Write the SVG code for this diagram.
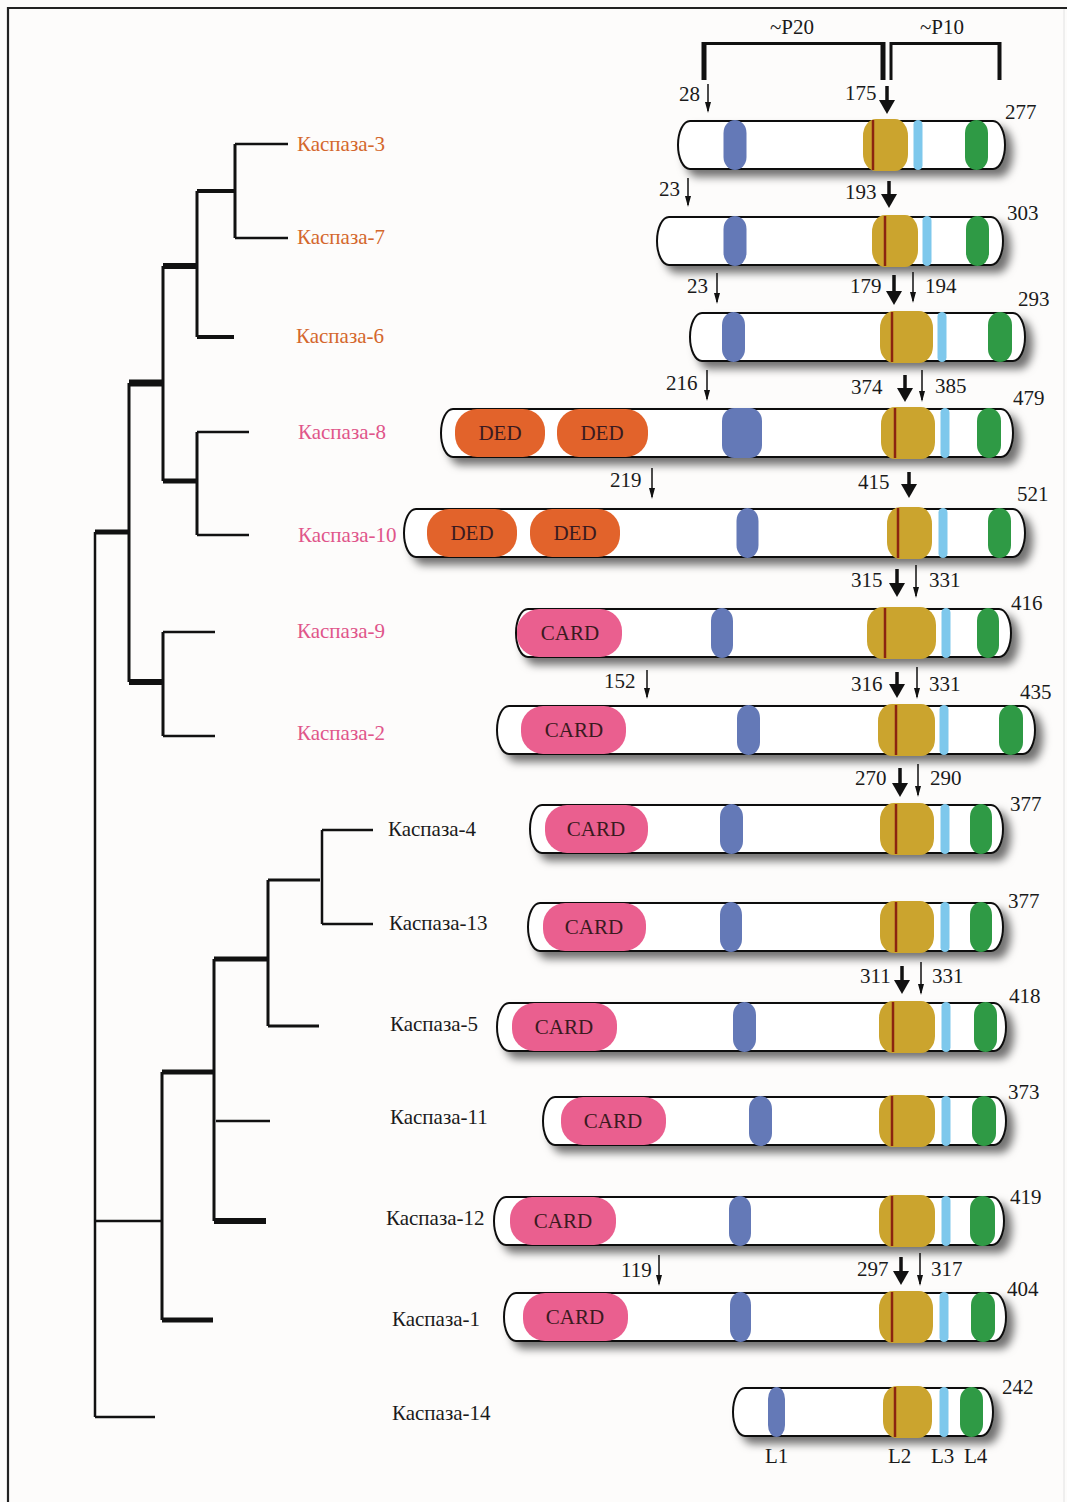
<svg xmlns="http://www.w3.org/2000/svg" width="1067" height="1502" viewBox="0 0 1067 1502">
<style>
text{font-family:"Liberation Serif","Times New Roman",serif;font-size:21px;fill:#1a1a1a}
.lo{fill:#d4672c}.lp{fill:#e0558a}
.dom{text-anchor:middle;fill:#3a1a20}
.bar{fill:#fff;stroke:#111;stroke-width:2}
.bl{fill:#6479b7}.go{fill:#cba42e}.lb{fill:#7ec8ec}.gr{fill:#2f9a45}
.rd{stroke:#8b2410;stroke-width:2.5}
.ded{fill:#e2632b}.card{fill:#ea5f8f}
.br{stroke:#111;fill:none;stroke-linecap:butt}
.t{stroke:#111;stroke-width:1.5;marker-end:url(#at)}
.k{stroke:#111;stroke-width:3.5;marker-end:url(#ak)}
</style>
<defs>
<filter id="sh" x="-5%" y="-30%" width="115%" height="190%">
<feDropShadow dx="7" dy="7" stdDeviation="4.5" flood-color="#000" flood-opacity="0.55"/>
</filter>
<marker id="at" markerUnits="userSpaceOnUse" markerWidth="20" markerHeight="20" viewBox="-10 -10 20 20" refX="0" refY="0" orient="auto"><path d="M-9,-3 L2,0 L-9,3 z" fill="#111"/></marker>
<marker id="ak" markerUnits="userSpaceOnUse" markerWidth="24" markerHeight="24" viewBox="-12 -12 24 24" refX="0" refY="0" orient="auto"><path d="M-8,-8 L6,0 L-8,8 z" fill="#111"/></marker>
</defs>
<rect x="0" y="0" width="1067" height="1502" fill="#fdfcfb"/>
<g id="frame" fill="none">
<path d="M8,1502 V8 H1067" stroke="#222" stroke-width="2.2"/>
<line x1="1064" y1="9" x2="1064" y2="1502" stroke="#e2e2e2" stroke-width="1"/>
</g>

<g id="connectors" class="br" stroke-linecap="square">
<line x1="235" y1="144" x2="288" y2="144" stroke-width="2.5"/>
<line x1="235" y1="238" x2="288" y2="238" stroke-width="2.5"/>
<line x1="235" y1="144" x2="235" y2="238" stroke-width="3"/>
<line x1="197" y1="191" x2="235" y2="191" stroke-width="4"/>
<line x1="197" y1="337" x2="234" y2="337" stroke-width="4"/>
<line x1="197" y1="191" x2="197" y2="337" stroke-width="3"/>
<line x1="163" y1="266" x2="197" y2="266" stroke-width="6"/>
<line x1="197" y1="432" x2="249" y2="432" stroke-width="2.5"/>
<line x1="197" y1="535" x2="249" y2="535" stroke-width="2.5"/>
<line x1="197" y1="432" x2="197" y2="535" stroke-width="3"/>
<line x1="163" y1="481" x2="197" y2="481" stroke-width="5"/>
<line x1="163" y1="266" x2="163" y2="481" stroke-width="3"/>
<line x1="129" y1="383" x2="163" y2="383" stroke-width="7"/>
<line x1="163" y1="632" x2="215" y2="632" stroke-width="2.5"/>
<line x1="163" y1="736" x2="215" y2="736" stroke-width="2.5"/>
<line x1="163" y1="632" x2="163" y2="736" stroke-width="3"/>
<line x1="129" y1="682" x2="163" y2="682" stroke-width="6"/>
<line x1="129" y1="383" x2="129" y2="682" stroke-width="3"/>
<line x1="95" y1="532" x2="129" y2="532" stroke-width="5"/>
<line x1="95" y1="532" x2="95" y2="1417" stroke-width="2.5"/>
<line x1="95" y1="1417" x2="155" y2="1417" stroke-width="2.5"/>
<line x1="95" y1="1221" x2="162" y2="1221" stroke-width="2.5"/>
<line x1="162" y1="1072" x2="162" y2="1320" stroke-width="3"/>
<line x1="162" y1="1072" x2="214" y2="1072" stroke-width="5"/>
<line x1="162" y1="1320" x2="213" y2="1320" stroke-width="5"/>
<line x1="214" y1="959" x2="214" y2="1221" stroke-width="3"/>
<line x1="214" y1="959" x2="268" y2="959" stroke-width="5"/>
<line x1="216" y1="1121" x2="270" y2="1121" stroke-width="2.5"/>
<line x1="214" y1="1221" x2="266" y2="1221" stroke-width="6"/>
<line x1="268" y1="880" x2="268" y2="1026" stroke-width="3"/>
<line x1="268" y1="880" x2="320" y2="880" stroke-width="3"/>
<line x1="268" y1="1026" x2="319" y2="1026" stroke-width="3"/>
<line x1="322" y1="830" x2="322" y2="924" stroke-width="2.5"/>
<line x1="322" y1="830" x2="373" y2="830" stroke-width="2.5"/>
<line x1="322" y1="924" x2="373" y2="924" stroke-width="2.5"/>
</g>

<g id="labels">
<text x="297" y="151" class="lo">Каспаза-3</text>
<text x="297" y="244" class="lo">Каспаза-7</text>
<text x="296" y="343" class="lo">Каспаза-6</text>
<text x="298" y="439" class="lp">Каспаза-8</text>
<text x="298" y="542" class="lp">Каспаза-10</text>
<text x="297" y="638" class="lp">Каспаза-9</text>
<text x="297" y="740" class="lp">Каспаза-2</text>
<text x="388" y="836">Каспаза-4</text>
<text x="389" y="930">Каспаза-13</text>
<text x="390" y="1031">Каспаза-5</text>
<text x="390" y="1124">Каспаза-11</text>
<text x="386" y="1225">Каспаза-12</text>
<text x="392" y="1326">Каспаза-1</text>
<text x="392" y="1420">Каспаза-14</text>
</g>

<g id="brackets">
<line x1="704" y1="42" x2="704" y2="80" class="br" stroke-width="5"/>
<line x1="702" y1="43.5" x2="885" y2="43.5" class="br" stroke-width="3"/>
<line x1="883" y1="42" x2="883" y2="80" class="br" stroke-width="5"/>
<line x1="891" y1="42" x2="891" y2="80" class="br" stroke-width="3"/>
<line x1="890" y1="43.5" x2="1001" y2="43.5" class="br" stroke-width="3"/>
<line x1="999.5" y1="42" x2="999.5" y2="80" class="br" stroke-width="4"/>
<text x="792" y="34" text-anchor="middle">~P20</text>
<text x="942" y="34" text-anchor="middle">~P10</text>
</g>

<g id="casp3">
<rect class="bar" x="678" y="121" width="327" height="48" rx="12" ry="24" filter="url(#sh)"/>
<rect class="bl" x="723.5" y="120" width="23" height="50" rx="11.5" ry="13"/>
<rect class="go" x="863" y="119" width="45" height="52" rx="13" ry="17"/>
<line class="rd" x1="873" y1="120" x2="873" y2="170"/>
<rect class="lb" x="913.5" y="120" width="9" height="50" rx="4.5"/>
<rect class="gr" x="965" y="120" width="23" height="50" rx="11.5" ry="13"/>
<text x="1005" y="119">277</text>
<text x="679" y="101">28</text><line class="t" x1="708" y1="84" x2="708" y2="111"/>
<text x="845" y="100">175</text><line class="k" x1="887" y1="86" x2="887" y2="108"/>
</g>

<g id="casp7">
<rect class="bar" x="657" y="217" width="346" height="48" rx="12" ry="24" filter="url(#sh)"/>
<rect class="bl" x="723.5" y="216" width="23" height="50" rx="11.5" ry="13"/>
<rect class="go" x="872" y="215" width="46" height="52" rx="13" ry="17"/>
<line class="rd" x1="885" y1="216" x2="885" y2="266"/>
<rect class="lb" x="922.5" y="216" width="9" height="50" rx="4.5"/>
<rect class="gr" x="966" y="216" width="23" height="50" rx="11.5" ry="13"/>
<text x="1007" y="220">303</text>
<text x="659" y="196">23</text><line class="t" x1="688" y1="178" x2="688" y2="205"/>
<text x="845" y="199">193</text><line class="k" x1="889" y1="181" x2="889" y2="202"/>
</g>

<g id="casp6">
<rect class="bar" x="690" y="313" width="335" height="48" rx="12" ry="24" filter="url(#sh)"/>
<rect class="bl" x="722" y="312" width="23" height="50" rx="11.5" ry="13"/>
<rect class="go" x="880" y="311" width="53" height="52" rx="14" ry="17"/>
<line class="rd" x1="892" y1="312" x2="892" y2="362"/>
<rect class="lb" x="937.5" y="312" width="9" height="50" rx="4.5"/>
<rect class="gr" x="988" y="312" width="24" height="50" rx="12" ry="13"/>
<text x="1018" y="306">293</text>
<text x="687" y="293">23</text><line class="t" x1="717" y1="273" x2="717" y2="302"/>
<text x="850" y="293">179</text><line class="k" x1="894" y1="275" x2="894" y2="299"/>
<line class="t" x1="913" y1="272" x2="913" y2="301"/>
<text x="925" y="293">194</text>
</g>

<g id="casp8">
<rect class="bar" x="441" y="409" width="572" height="48" rx="12" ry="24" filter="url(#sh)"/>
<rect class="ded" x="455" y="409" width="90" height="48" rx="22" ry="22"/>
<text x="500" y="440" class="dom">DED</text>
<rect class="ded" x="557" y="409" width="91" height="48" rx="22" ry="22"/>
<text x="602" y="440" class="dom">DED</text>
<rect class="bl" x="722" y="408" width="40" height="50" rx="12" ry="13"/>
<rect class="go" x="881" y="407" width="54" height="52" rx="14" ry="17"/>
<line class="rd" x1="895" y1="408" x2="895" y2="458"/>
<rect class="lb" x="940.5" y="408" width="9" height="50" rx="4.5"/>
<rect class="gr" x="977" y="408" width="24" height="50" rx="12" ry="13"/>
<text x="1013" y="405">479</text>
<text x="666" y="390">216</text><line class="t" x1="707" y1="370" x2="707" y2="399"/>
<text x="851" y="394">374</text><line class="k" x1="905" y1="375" x2="905" y2="396"/>
<line class="t" x1="922" y1="370" x2="922" y2="400"/>
<text x="935" y="393">385</text>
</g>

<g id="casp10">
<rect class="bar" x="404" y="509" width="621" height="48" rx="12" ry="24" filter="url(#sh)"/>
<rect class="ded" x="427" y="509" width="90" height="48" rx="22" ry="22"/>
<text x="472" y="540" class="dom">DED</text>
<rect class="ded" x="530" y="509" width="90" height="48" rx="22" ry="22"/>
<text x="575" y="540" class="dom">DED</text>
<rect class="bl" x="736.5" y="508" width="22" height="50" rx="11" ry="13"/>
<rect class="go" x="887" y="507" width="45" height="52" rx="13" ry="17"/>
<line class="rd" x1="898" y1="508" x2="898" y2="558"/>
<rect class="lb" x="938.5" y="508" width="9" height="50" rx="4.5"/>
<rect class="gr" x="988" y="508" width="23" height="50" rx="11.5" ry="13"/>
<text x="1017" y="501">521</text>
<text x="610" y="487">219</text><line class="t" x1="652" y1="468" x2="652" y2="497"/>
<text x="858" y="489">415</text><line class="k" x1="909" y1="472" x2="909" y2="492"/>
</g>

<g id="casp9">
<rect class="bar" x="516" y="609" width="495" height="48" rx="12" ry="24" filter="url(#sh)"/>
<rect class="card" x="517" y="609" width="105" height="48" rx="22" ry="22"/>
<text x="570" y="640" class="dom">CARD</text>
<rect class="bl" x="711" y="608" width="22" height="50" rx="11" ry="13"/>
<rect class="go" x="867" y="607" width="69" height="52" rx="16" ry="18"/>
<line class="rd" x1="885" y1="608" x2="885" y2="658"/>
<rect class="lb" x="941.5" y="608" width="9" height="50" rx="4.5"/>
<rect class="gr" x="977" y="608" width="22" height="50" rx="11" ry="13"/>
<text x="1011" y="610">416</text>
<text x="851" y="587">315</text><line class="k" x1="897" y1="569" x2="897" y2="591"/>
<line class="t" x1="916" y1="565" x2="916" y2="596"/>
<text x="929" y="587">331</text>
</g>

<g id="casp2">
<rect class="bar" x="497" y="706" width="538" height="48" rx="12" ry="24" filter="url(#sh)"/>
<rect class="card" x="521" y="706" width="105" height="48" rx="22" ry="22"/>
<text x="574" y="737" class="dom">CARD</text>
<rect class="bl" x="737" y="705" width="23" height="50" rx="11.5" ry="13"/>
<rect class="go" x="878" y="704" width="57" height="52" rx="14" ry="17"/>
<line class="rd" x1="896" y1="705" x2="896" y2="755"/>
<rect class="lb" x="939.5" y="705" width="9" height="50" rx="4.5"/>
<rect class="gr" x="999" y="705" width="24" height="50" rx="12" ry="13"/>
<text x="1020" y="699">435</text>
<text x="604" y="688">152</text><line class="t" x1="647" y1="670" x2="647" y2="697"/>
<text x="851" y="691">316</text><line class="k" x1="897" y1="672" x2="897" y2="692"/>
<line class="t" x1="917" y1="667" x2="917" y2="697"/>
<text x="929" y="691">331</text>
</g>

<g id="casp4">
<rect class="bar" x="530" y="805" width="473" height="48" rx="12" ry="24" filter="url(#sh)"/>
<rect class="card" x="545" y="805" width="103" height="48" rx="22" ry="22"/>
<text x="596" y="836" class="dom">CARD</text>
<rect class="bl" x="720" y="804" width="23" height="50" rx="11.5" ry="13"/>
<rect class="go" x="880" y="803" width="54" height="52" rx="14" ry="17"/>
<line class="rd" x1="896" y1="804" x2="896" y2="854"/>
<rect class="lb" x="940.5" y="804" width="9" height="50" rx="4.5"/>
<rect class="gr" x="970" y="804" width="22" height="50" rx="11" ry="13"/>
<text x="1010" y="811">377</text>
<text x="855" y="785">270</text><line class="k" x1="900" y1="768" x2="900" y2="791"/>
<line class="t" x1="918" y1="764" x2="918" y2="795"/>
<text x="930" y="785">290</text>
</g>

<g id="casp13">
<rect class="bar" x="528" y="903" width="475" height="48" rx="12" ry="24" filter="url(#sh)"/>
<rect class="card" x="543" y="903" width="103" height="48" rx="22" ry="22"/>
<text x="594" y="934" class="dom">CARD</text>
<rect class="bl" x="720" y="902" width="22" height="50" rx="11" ry="13"/>
<rect class="go" x="880" y="901" width="54" height="52" rx="14" ry="17"/>
<line class="rd" x1="896" y1="902" x2="896" y2="952"/>
<rect class="lb" x="940.5" y="902" width="9" height="50" rx="4.5"/>
<rect class="gr" x="970" y="902" width="22" height="50" rx="11" ry="13"/>
<text x="1008" y="908">377</text>
</g>

<g id="casp5">
<rect class="bar" x="497" y="1003" width="509" height="48" rx="12" ry="24" filter="url(#sh)"/>
<rect class="card" x="512" y="1003" width="105" height="48" rx="22" ry="22"/>
<text x="564" y="1034" class="dom">CARD</text>
<rect class="bl" x="733" y="1002" width="23" height="50" rx="11.5" ry="13"/>
<rect class="go" x="879" y="1001" width="56" height="52" rx="14" ry="17"/>
<line class="rd" x1="893" y1="1002" x2="893" y2="1052"/>
<rect class="lb" x="941.5" y="1002" width="9" height="50" rx="4.5"/>
<rect class="gr" x="974" y="1002" width="23" height="50" rx="11.5" ry="13"/>
<text x="1009" y="1003">418</text>
<text x="860" y="983">311</text><line class="k" x1="902" y1="966" x2="902" y2="988"/>
<line class="t" x1="921" y1="962" x2="921" y2="993"/>
<text x="932" y="983">331</text>
</g>

<g id="casp11">
<rect class="bar" x="543" y="1097" width="463" height="48" rx="12" ry="24" filter="url(#sh)"/>
<rect class="card" x="561" y="1097" width="105" height="48" rx="22" ry="22"/>
<text x="613" y="1128" class="dom">CARD</text>
<rect class="bl" x="749" y="1096" width="23" height="50" rx="11.5" ry="13"/>
<rect class="go" x="879" y="1095" width="56" height="52" rx="14" ry="17"/>
<line class="rd" x1="892" y1="1096" x2="892" y2="1146"/>
<rect class="lb" x="941.5" y="1096" width="9" height="50" rx="4.5"/>
<rect class="gr" x="972" y="1096" width="24" height="50" rx="12" ry="13"/>
<text x="1008" y="1099">373</text>
</g>

<g id="casp12">
<rect class="bar" x="494" y="1197" width="510" height="48" rx="12" ry="24" filter="url(#sh)"/>
<rect class="card" x="510" y="1197" width="106" height="48" rx="22" ry="22"/>
<text x="563" y="1228" class="dom">CARD</text>
<rect class="bl" x="729" y="1196" width="22" height="50" rx="11" ry="13"/>
<rect class="go" x="879" y="1195" width="56" height="52" rx="14" ry="17"/>
<line class="rd" x1="892" y1="1196" x2="892" y2="1246"/>
<rect class="lb" x="941.5" y="1196" width="9" height="50" rx="4.5"/>
<rect class="gr" x="970" y="1196" width="25" height="50" rx="12" ry="13"/>
<text x="1010" y="1204">419</text>
</g>

<g id="casp1">
<rect class="bar" x="504" y="1293" width="502" height="48" rx="12" ry="24" filter="url(#sh)"/>
<rect class="card" x="523" y="1293" width="105" height="48" rx="22" ry="22"/>
<text x="575" y="1324" class="dom">CARD</text>
<rect class="bl" x="730" y="1292" width="21" height="50" rx="10.5" ry="13"/>
<rect class="go" x="879" y="1291" width="54" height="52" rx="14" ry="17"/>
<line class="rd" x1="892" y1="1292" x2="892" y2="1342"/>
<rect class="lb" x="939.5" y="1292" width="9" height="50" rx="4.5"/>
<rect class="gr" x="971" y="1292" width="24" height="50" rx="12" ry="13"/>
<text x="1007" y="1296">404</text>
<text x="621" y="1277">119</text><line class="t" x1="659" y1="1255" x2="659" y2="1284"/>
<text x="857" y="1276">297</text><line class="k" x1="901" y1="1257" x2="901" y2="1279"/>
<line class="t" x1="920" y1="1253" x2="920" y2="1284"/>
<text x="931" y="1276">317</text>
</g>

<g id="casp14">
<rect class="bar" x="733" y="1388" width="260" height="48" rx="12" ry="24" filter="url(#sh)"/>
<rect class="bl" x="768" y="1387" width="17" height="50" rx="8.5" ry="12"/>
<rect class="go" x="883" y="1386" width="49" height="52" rx="14" ry="17"/>
<line class="rd" x1="895" y1="1387" x2="895" y2="1437"/>
<rect class="lb" x="939.5" y="1387" width="9" height="50" rx="4.5"/>
<rect class="gr" x="960" y="1387" width="23" height="50" rx="11.5" ry="13"/>
<text x="1002" y="1394">242</text>
<text x="765" y="1463">L1</text>
<text x="888" y="1463">L2</text>
<text x="931" y="1463">L3</text>
<text x="964" y="1463">L4</text>
</g>
</svg>
